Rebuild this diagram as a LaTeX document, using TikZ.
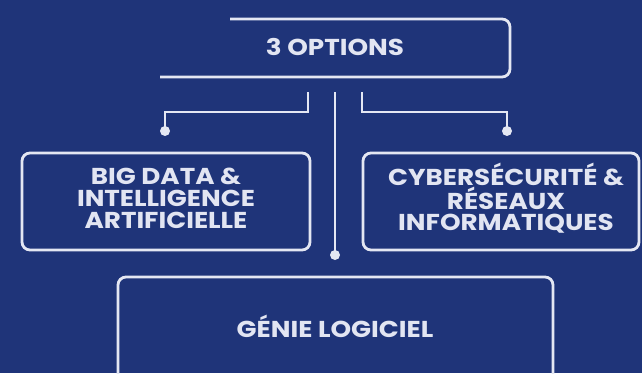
\documentclass[tikz,border=0pt]{standalone}
\usepackage{fontspec}
\setmainfont{Poppins}
\newfontfamily\lblfont{Poppins}[FakeStretch=1.14]
\begin{document}
\begin{tikzpicture}[x=1pt,y=1pt,
  every node/.style={inner sep=0pt,outer sep=0pt},
  frame/.style={draw=lineC,line width=2.8pt,rounded corners=8pt},
  lbl/.style={text=textC,font=\lblfont\fontsize{23}{22}\selectfont\bfseries,align=center},
  conn/.style={draw=lineC,line width=2.6pt},
  dotc/.style={fill=lineC,circle,minimum size=10pt}]
\definecolor{bgC}{RGB}{31,52,121}
\definecolor{lineC}{RGB}{228,231,243}
\definecolor{textC}{RGB}{226,229,242}
\useasboundingbox (0,0) rectangle (642,373);
\fill[bgC] (0,0) rectangle (642,373);
% top open box
\draw[frame] (230,354) -- (510,354) -- (510,296) -- (160,296);
\node[lbl] (opt) at (335,326) {3 OPTIONS};
% boxes
\node[frame,minimum width=288pt,minimum height=97pt] (bd) at (166,171.5) {};
\node[lbl] (bdt) at (166,174.5) {BIG DATA \&\\INTELLIGENCE\\ARTIFICIELLE};
\node[frame,minimum width=276pt,minimum height=97pt] (cy) at (501,171.5) {};
\node[lbl,font=\lblfont\fontsize{23}{21}\selectfont\bfseries] (cyt) at (506,175) {CYBERSÉCURITÉ \&\\RÉSEAUX\\INFORMATIQUES};
\node[frame,minimum width=435pt,minimum height=120pt] (gl) at (335.5,36) {};
\node[lbl] (glt) at (335,47) {GÉNIE LOGICIEL};
% connector ends
\coordinate (l0) at (308,281);
\coordinate (c0) at (335,281);
\coordinate (r0) at (362,281);
\node[dotc] (ld) at (165,242) {};
\node[dotc] (rd) at (507,242) {};
\node[dotc] (cd) at (335,118) {};
\draw[conn] (l0) |- (165,261) -- (ld.center);
\draw[conn] (r0) |- (507,261) -- (rd.center);
\draw[conn] (c0) -- (cd.center);
\end{tikzpicture}
\end{document}
